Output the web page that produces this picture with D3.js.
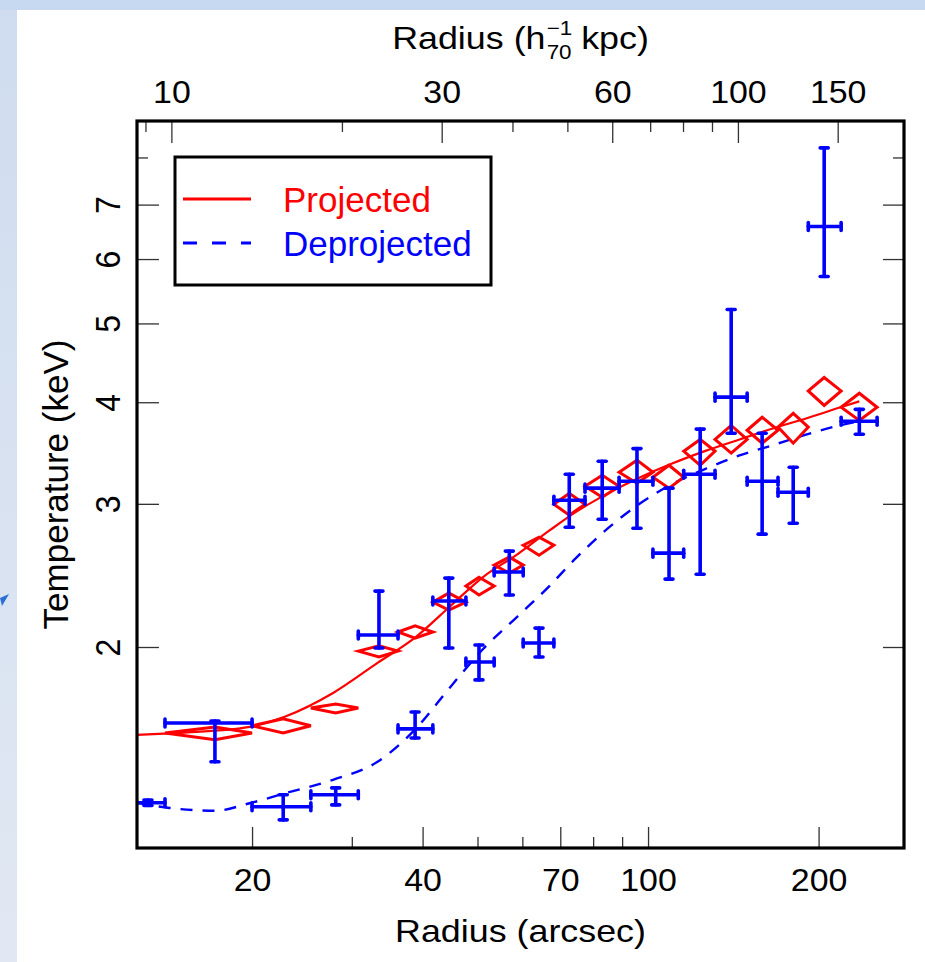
<!DOCTYPE html>
<html><head><meta charset="utf-8">
<script src="https://cdn.jsdelivr.net/npm/d3@7"></script>
<style>
html,body{margin:0;padding:0;background:#fff;}
svg{display:block;font-family:"Liberation Sans",Arial,Helvetica,sans-serif;}
</style></head><body>
<svg id="chart" width="925" height="962"></svg>
<script>
// Annular bins (arcsec): inner edge, outer edge, representative radius
const binLo  = [12.2, 14.04, 20.0, 25.4, 30.8, 36.2, 41.7, 47.7, 53.5, 60.2, 68.2, 77.4, 88.9, 102.0, 115.6, 131.3, 149.6, 169.6, 191.8, 219.2];
const binHi  = [14.04, 20.0, 25.4, 30.8, 36.2, 41.7, 47.7, 53.5, 60.2, 68.2, 77.4, 88.9, 102.0, 115.6, 131.3, 149.6, 169.6, 191.8, 219.2, 253.7];
const binMid = [13.1, 17.2, 22.7, 28.1, 33.5, 38.8, 44.5, 50.3, 56.9, 64.2, 72.6, 83.0, 95.6, 108.9, 123.6, 140.2, 159.0, 180.4, 204.6, 236.0];

// Deprojected temperatures (keV) with lower / upper limits, one per bin
const deprojT  = [1.287, 1.613, 1.272, 1.316, 2.069, 1.586, 2.278, 1.917, 2.473, 2.023, 3.031, 3.136, 3.198, 2.609, 3.262, 4.058, 3.198, 3.10, 6.58, 3.79];
const deprojLo = [1.277, 1.445, 1.226, 1.279, 1.994, 1.546, 1.994, 1.822, 2.317, 1.944, 2.808, 2.872, 2.800, 2.424, 2.458, 3.664, 2.753, 2.840, 5.71, 3.654];
const deprojHi = [1.297, 1.622, 1.316, 1.342, 2.343, 1.664, 2.431, 2.011, 2.624, 2.110, 3.262, 3.384, 3.508, 3.136, 3.707, 5.202, 3.664, 3.328, 8.22, 3.92];

// Projected temperatures (keV), bins 2..20
const projBin = [1, 2, 3, 4, 5, 6, 7, 8, 9, 10, 11, 12, 13, 14, 15, 16, 17, 18, 19];
const projT  = [1.568, 1.600, 1.683, 1.977, 2.087, 2.271, 2.377, 2.522, 2.668, 2.997, 3.153, 3.281, 3.234, 3.482, 3.600, 3.695, 3.728, 4.130, 3.943];
const projLo = [1.538, 1.568, 1.659, 1.944, 2.051, 2.221, 2.317, 2.466, 2.594, 2.905, 3.056, 3.180, 3.136, 3.346, 3.464, 3.562, 3.562, 3.964, 3.800];
const projHi = [1.595, 1.632, 1.702, 2.007, 2.123, 2.330, 2.437, 2.580, 2.730, 3.091, 3.253, 3.395, 3.346, 3.600, 3.746, 3.833, 3.876, 4.290, 4.103];

// Model profiles
const modelR      = [12.53, 14.3, 17.2, 19.8, 22.9, 27.8, 33.3, 39.0, 44.6, 51.2, 58.8, 67.1, 74.5, 85, 96.9, 110, 127, 145, 166, 190, 218, 236];
const modelProj   = [1.559, 1.566, 1.578, 1.595, 1.643, 1.756, 1.912, 2.06, 2.24, 2.44, 2.60, 2.784, 2.93, 3.09, 3.234, 3.36, 3.49, 3.60, 3.713, 3.82, 3.94, 4.01];
const modelDeproj = [1.287, 1.268, 1.258, 1.285, 1.322, 1.373, 1.445, 1.59, 1.78, 1.99, 2.18, 2.38, 2.57, 2.80, 3.005, 3.17, 3.318, 3.44, 3.542, 3.65, 3.746, 3.79];

// Axis ticks
const xMajor = [20, 40, 70, 100, 200];
const xMinor = [30, 50, 60, 80, 90];
const kpcMajor = [10, 30, 60, 100, 150];
const kpcMinor = [9, 20, 40, 50, 70, 80, 90];
const kpcPerArcsec = 0.694;
const yMajor = [2, 3, 4, 5, 6, 7];
const yMinor = [8];

const legendItems = [
  {label: "Projected", color: "#ff0000", dash: null},
  {label: "Deprojected", color: "#0000ff", dash: "14,15"}
];

const svg = d3.select("#chart");
const L = 137, R = 904, T = 121, B = 848;
const labelStretch = 1.06;   // axis lettering is set slightly wide
const titleStretch = 1.12;

// slide background bands
const defs = svg.append("defs");
const grad = defs.append("linearGradient").attr("id", "band").attr("x1", 0).attr("y1", 0).attr("x2", 0).attr("y2", 1);
grad.append("stop").attr("offset", 0).attr("stop-color", "#cfdcef");
grad.append("stop").attr("offset", 1).attr("stop-color", "#e1e8f3");
svg.append("rect").attr("x", 0).attr("y", 0).attr("width", 17).attr("height", 962).attr("fill", "url(#band)");
svg.append("rect").attr("x", 0).attr("y", 0).attr("width", 925).attr("height", 10).attr("fill", "#c6d9f0");
svg.append("path").attr("d", "M0,598 L9,594 L2,606 Z").attr("fill", "#2a6fd6");

const x = d3.scaleLog().domain([12.53, 283]).range([L, R]);
const y = d3.scaleLog().domain([1.132, 8.87]).range([B, T]);

defs.append("clipPath").attr("id", "plot")
  .append("rect").attr("x", L).attr("y", T).attr("width", R - L).attr("height", B - T);

const fmt = d3.format("d");
const tickStyle = g => {
  g.select(".domain").remove();
  g.selectAll("line").attr("stroke", "#333").attr("stroke-width", 1.3);
  g.selectAll("text").attr("fill", "#000").style("font-size", "32px").attr("font-family", null)
    .attr("transform", `scale(${labelStretch},1)`);
};

// bottom axis (arcsec)
svg.append("g").attr("transform", `translate(0,${B})`)
  .call(d3.axisBottom(x).tickValues(xMajor).tickFormat(fmt).tickSize(-21).tickPadding(20))
  .call(tickStyle);
svg.append("g").attr("transform", `translate(0,${B})`)
  .call(d3.axisBottom(x).tickValues(xMinor).tickFormat("").tickSize(-11))
  .call(tickStyle);

// top axis (kpc)
const toArc = k => k / kpcPerArcsec;
svg.append("g").attr("transform", `translate(0,${T})`)
  .call(d3.axisTop(x).tickValues(kpcMajor.map(toArc)).tickFormat((d, i) => kpcMajor[i]).tickSize(-22).tickPadding(18))
  .call(tickStyle);
svg.append("g").attr("transform", `translate(0,${T})`)
  .call(d3.axisTop(x).tickValues(kpcMinor.map(toArc)).tickFormat("").tickSize(-11))
  .call(tickStyle);

// left axis (keV), labels turned upright along the axis
svg.append("g").attr("transform", `translate(${L},0)`)
  .call(d3.axisLeft(y).tickValues(yMajor).tickFormat(fmt).tickSize(-22))
  .call(tickStyle)
  .call(g => g.selectAll("text").attr("x", null).attr("dy", null)
    .attr("text-anchor", "middle").attr("transform", `translate(-17,0) scale(${labelStretch + 0.03},1) rotate(-90)`));
svg.append("g").attr("transform", `translate(${L},0)`)
  .call(d3.axisLeft(y).tickValues(yMinor).tickFormat("").tickSize(-11))
  .call(tickStyle);
// right axis ticks
svg.append("g").attr("transform", `translate(${R},0)`)
  .call(d3.axisRight(y).tickValues(yMajor).tickFormat("").tickSize(-21))
  .call(tickStyle);
svg.append("g").attr("transform", `translate(${R},0)`)
  .call(d3.axisRight(y).tickValues(yMinor).tickFormat("").tickSize(-11))
  .call(tickStyle);

// axis titles
svg.append("text").attr("transform", `translate(${(L + R) / 2},942) scale(${titleStretch},1)`).attr("text-anchor", "middle")
  .style("font-size", "32px").text("Radius (arcsec)");
svg.append("text").attr("transform", `translate(68,${(T + B) / 2}) rotate(-90)`).attr("text-anchor", "middle")
  .style("font-size", "35px").text("Temperature (keV)");

const topTitle = svg.append("g");
const t1 = topTitle.append("text").attr("x", 0).attr("y", 0).style("font-size", "32px").text("Radius (h");
const w1 = t1.node().getComputedTextLength();
const sup = topTitle.append("text").attr("x", w1 + 1).attr("y", -14).style("font-size", "20px").text("\u22121");
const sub = topTitle.append("text").attr("x", w1 + 1).attr("y", 10).style("font-size", "20px").text("70");
const w2 = Math.max(sup.node().getComputedTextLength(), sub.node().getComputedTextLength());
const t3 = topTitle.append("text").attr("x", w1 + w2 + 9).attr("y", 0).style("font-size", "32px").text("kpc)");
const wAll = (w1 + w2 + 9 + t3.node().getComputedTextLength()) * titleStretch;
topTitle.attr("transform", `translate(${(L + R) / 2 - wAll / 2},49) scale(${titleStretch},1)`);

// plotted data
const plot = svg.append("g").attr("clip-path", "url(#plot)");
const line = d3.line().x(d => x(d[0])).y(d => y(d[1])).curve(d3.curveMonotoneX);

plot.append("path").datum(modelR.map((r, i) => [r, modelProj[i]]))
  .attr("d", line).attr("fill", "none").attr("stroke", "#ff0000").attr("stroke-width", 2.2);
plot.append("path").datum(modelR.map((r, i) => [r, modelDeproj[i]]))
  .attr("d", line).attr("fill", "none").attr("stroke", "#0000ff").attr("stroke-width", 2.4)
  .attr("stroke-dasharray", "12,10");

// projected: diamonds spanning the bin width and the error range
plot.selectAll("path.diamond").data(projBin.map((b, i) => ({b, t: projT[i], lo: projLo[i], hi: projHi[i]})))
  .join("path").attr("class", "diamond")
  .attr("d", d => `M${x(binLo[d.b])},${y(d.t)}L${x(binMid[d.b])},${y(d.hi)}L${x(binHi[d.b])},${y(d.t)}L${x(binMid[d.b])},${y(d.lo)}Z`)
  .attr("fill", "none").attr("stroke", "#ff0000").attr("stroke-width", 3);

// deprojected: crosses with caps
const dep = binMid.map((r, i) => ({r, lo: binLo[i], hi: binHi[i], t: deprojT[i], tl: deprojLo[i], th: deprojHi[i]}));
const eb = plot.append("g").attr("stroke", "#0000ff").attr("stroke-width", 3.6).attr("stroke-linecap", "round");
const cap = 4;
dep.forEach(d => {
  const g = eb.append("g");
  g.append("line").attr("x1", x(d.lo)).attr("x2", x(d.hi)).attr("y1", y(d.t)).attr("y2", y(d.t));
  g.append("line").attr("x1", x(d.r)).attr("x2", x(d.r)).attr("y1", y(d.tl)).attr("y2", y(d.th));
  g.append("line").attr("x1", x(d.lo)).attr("x2", x(d.lo)).attr("y1", y(d.t) - cap).attr("y2", y(d.t) + cap);
  g.append("line").attr("x1", x(d.hi)).attr("x2", x(d.hi)).attr("y1", y(d.t) - cap).attr("y2", y(d.t) + cap);
  g.append("line").attr("x1", x(d.r) - cap).attr("x2", x(d.r) + cap).attr("y1", y(d.tl)).attr("y2", y(d.tl));
  g.append("line").attr("x1", x(d.r) - cap).attr("x2", x(d.r) + cap).attr("y1", y(d.th)).attr("y2", y(d.th));
});

// legend
const lg = svg.append("g");
lg.append("rect").attr("x", 175).attr("y", 157).attr("width", 316).attr("height", 128)
  .attr("fill", "#fff").attr("stroke", "#000").attr("stroke-width", 3);
legendItems.forEach((it, i) => {
  const ly = 199 + i * 44;
  lg.append("line").attr("x1", 183).attr("x2", 251).attr("y1", ly).attr("y2", ly)
    .attr("stroke", it.color).attr("stroke-width", 3).attr("stroke-dasharray", it.dash);
  lg.append("text").attr("x", 283).attr("y", ly + 13).attr("fill", it.color)
    .style("font-size", "35px").text(it.label);
});

// plot frame
svg.append("rect").attr("x", L).attr("y", T).attr("width", R - L).attr("height", B - T)
  .attr("fill", "none").attr("stroke", "#000").attr("stroke-width", 3.2);
</script>
</body></html>
